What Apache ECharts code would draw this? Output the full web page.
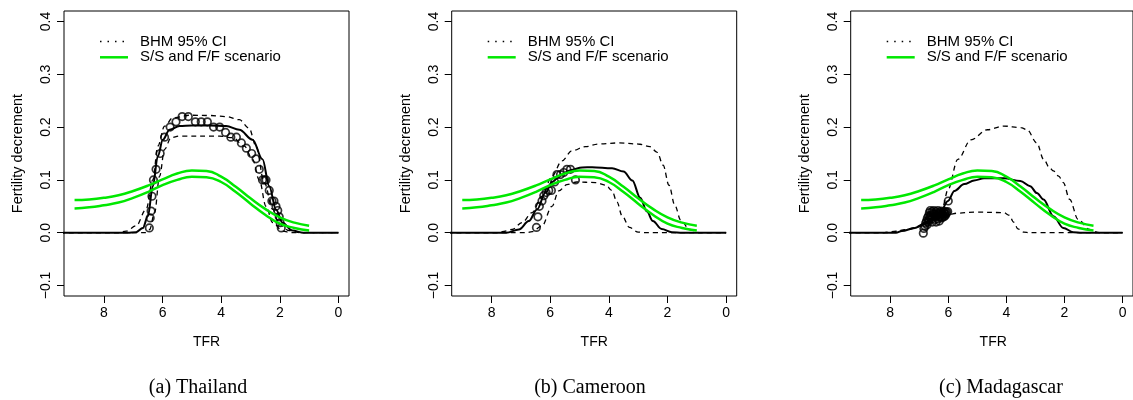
<!DOCTYPE html>
<html>
<head>
<meta charset="utf-8">
<script src="https://cdn.jsdelivr.net/npm/echarts@6/dist/echarts.min.js"></script>
<style>html,body{margin:0;padding:0;background:#fff}#c{width:1133px;height:400px}</style>
</head>
<body>
<div id="c"></div>
<script>
// ---------- data ----------
const xTicks = [0, 2, 4, 6, 8];
const yTicks = [-0.1, 0, 0.1, 0.2, 0.3, 0.4];
const captions = ['(a) Thailand', '(b) Cameroon', '(c) Madagascar'];

const greenTFR   = [9, 8.5, 8, 7.5, 7, 6.5, 6, 5.5, 5, 4.5, 4, 3.5, 3, 2.5, 2, 1.5, 1];
const greenUpper = [0.062, 0.063, 0.066, 0.071, 0.079, 0.089, 0.101, 0.112, 0.118, 0.117, 0.106, 0.087, 0.065, 0.045, 0.029, 0.019, 0.013];
const greenLower = [0.046, 0.048, 0.052, 0.057, 0.066, 0.077, 0.090, 0.100, 0.106, 0.105, 0.096, 0.077, 0.055, 0.034, 0.017, 0.009, 0.004];

// Thailand
const thMedian = [[9.5,0],[7.2,0],[6.9,0.001],[6.67,0.009],[6.5,0.031],[6.33,0.088],[6.16,0.145],[5.99,0.176],[5.76,0.195],[5.42,0.202],[5.0,0.203],[4.4,0.203],[3.83,0.202],[3.38,0.195],[2.93,0.176],[2.59,0.139],[2.36,0.088],[2.13,0.044],[1.91,0.019],[1.57,0.004],[1.2,0],[0,0]];
const thUpper  = [[9.5,0],[7.5,0],[7.24,0.003],[6.9,0.013],[6.56,0.044],[6.33,0.10],[6.16,0.164],[5.93,0.2017],[5.65,0.2175],[5.08,0.2225],[4.4,0.222],[3.83,0.22],[3.38,0.214],[3.05,0.198],[2.81,0.164],[2.53,0.095],[2.24,0.044],[2.02,0.016],[1.68,0.004],[1.3,0],[0,0]];
const thLower  = [[9.5,0],[6.6,0],[6.44,0.006],[6.27,0.038],[6.1,0.107],[5.93,0.158],[5.71,0.18],[5.42,0.183],[4.06,0.183],[3.61,0.18],[3.21,0.164],[2.93,0.139],[2.7,0.1],[2.47,0.05],[2.24,0.019],[1.91,0.003],[1.6,0],[0,0]];
const thPoints = [[6.45,0.009],[6.42,0.028],[6.39,0.041],[6.36,0.069],[6.31,0.1],[6.22,0.12],[6.08,0.15],[5.93,0.181],[5.74,0.2],[5.54,0.21],[5.33,0.22],[5.12,0.22],[4.88,0.21],[4.68,0.21],[4.47,0.21],[4.26,0.2],[4.05,0.2],[3.85,0.19],[3.67,0.181],[3.48,0.181],[3.31,0.17],[3.14,0.16],[2.96,0.15],[2.81,0.14],[2.7,0.12],[2.59,0.1],[2.52,0.1],[2.47,0.1],[2.36,0.08],[2.27,0.06],[2.2,0.06],[2.13,0.05],[2.07,0.042],[2.02,0.03],[1.99,0.019],[1.95,0.009]];

// Cameroon
const caMedian = [[9.5,0],[7.5,0],[7.07,0.006],[6.73,0.022],[6.45,0.044],[6.16,0.076],[5.94,0.096],[5.65,0.109],[5.31,0.1185],[4.91,0.1236],[4.57,0.124],[3.89,0.122],[3.5,0.116],[3.2,0.099],[2.93,0.066],[2.7,0.04],[2.5,0.022],[2.2,0.007],[1.85,0.001],[1.5,0],[0,0]];
const caUpper  = [[9.5,0],[7.8,0],[7.64,0.002],[7.3,0.006],[6.96,0.019],[6.62,0.038],[6.28,0.069],[5.94,0.107],[5.6,0.136],[5.26,0.155],[4.8,0.163],[4.35,0.168],[3.67,0.17],[3.0,0.168],[2.6,0.163],[2.35,0.152],[2.15,0.128],[1.95,0.09],[1.75,0.052],[1.55,0.024],[1.25,0.006],[0.9,0],[0,0]];
const caLower  = [[9.5,0],[6.8,0],[6.62,0.002],[6.28,0.013],[5.94,0.05],[5.71,0.079],[5.43,0.091],[5.1,0.096],[4.46,0.095],[4.1,0.09],[3.9,0.08],[3.72,0.058],[3.55,0.032],[3.3,0.01],[3.0,0.001],[2.7,0],[0,0]];
const caPoints = [[6.47,0.01],[6.42,0.03],[6.37,0.05],[6.28,0.06],[6.22,0.07],[6.14,0.076],[6.05,0.08],[5.96,0.08],[5.85,0.096],[5.77,0.11],[5.65,0.11],[5.54,0.114],[5.43,0.12],[5.31,0.12],[5.14,0.10]];

// Madagascar
const maMedian = [[9.5,0],[7.8,0],[7.6,0.003],[7.15,0.009],[6.87,0.016],[6.58,0.025],[6.3,0.036],[6.01,0.06],[5.79,0.079],[5.45,0.092],[5.11,0.099],[4.77,0.103],[4.09,0.103],[3.52,0.098],[3.18,0.088],[2.95,0.075],[2.72,0.063],[2.38,0.031],[2.04,0.009],[1.7,0.001],[1.4,0],[0,0]];
const maUpper  = [[9.5,0],[8.2,0],[7.95,0.002],[7.38,0.006],[6.92,0.013],[6.47,0.025],[6.19,0.05],[6.01,0.082],[5.67,0.139],[5.22,0.176],[4.65,0.195],[4.09,0.202],[3.5,0.199],[3.29,0.195],[2.95,0.17],[2.72,0.139],[2.5,0.122],[2.38,0.117],[2.2,0.107],[2.04,0.095],[1.82,0.063],[1.53,0.025],[1.14,0.006],[0.8,0],[0,0]];
const maLower  = [[9.5,0],[8.0,0],[7.72,0.003],[7.15,0.009],[6.81,0.016],[6.36,0.028],[6.02,0.034],[5.67,0.037],[5.1,0.039],[4.09,0.038],[3.9,0.033],[3.75,0.02],[3.6,0.007],[3.4,0.001],[3.2,0],[0,0]];
const maPoints = [[6.86,-0.001],[6.84,0.008],[6.8,0.012],[6.78,0.018],[6.75,0.022],[6.73,0.015],[6.72,0.028],[6.7,0.02],[6.68,0.032],[6.66,0.025],[6.65,0.038],[6.63,0.03],[6.62,0.042],[6.6,0.033],[6.58,0.026],[6.56,0.04],[6.55,0.02],[6.53,0.036],[6.52,0.03],[6.5,0.042],[6.48,0.035],[6.46,0.025],[6.45,0.03],[6.43,0.04],[6.42,0.02],[6.4,0.032],[6.38,0.036],[6.36,0.042],[6.35,0.026],[6.33,0.03],[6.31,0.022],[6.3,0.038],[6.28,0.03],[6.26,0.035],[6.25,0.041],[6.23,0.028],[6.22,0.036],[6.2,0.03],[6.18,0.034],[6.16,0.04],[6.15,0.03],[6.13,0.036],[6.11,0.032],[6.1,0.04],[6.08,0.035],[6.05,0.038],[6.02,0.04],[6.0,0.06]];

const panels = [
  {median: thMedian, upper: thUpper, lower: thLower, points: thPoints},
  {median: caMedian, upper: caUpper, lower: caLower, points: caPoints},
  {median: maMedian, upper: maUpper, lower: maLower, points: maPoints}
];

// ---------- layout ----------
const gridLeft = [64, 451.7, 850.7];
const gridTop = 11, gridW = 285, gridH = 285;
const captionX = [198, 590, 1001];
const SANS = '"Liberation Sans", Arial, sans-serif';
const SERIF = '"Liberation Serif", "DejaVu Serif", serif';

const zip = (xs, ys) => xs.map((x, i) => [x, ys[i]]);
const yFmt = v => (v < 0 ? '\u2212' + Math.abs(v).toFixed(1) : v.toFixed(1));

const grids = [], xAxes = [], yAxes = [], series = [], graphics = [];
panels.forEach((p, i) => {
  grids.push({left: gridLeft[i], top: gridTop, width: gridW, height: gridH,
    show: true, borderColor: '#000', borderWidth: 1, backgroundColor: 'transparent'});
  xAxes.push({type: 'value', gridIndex: i, inverse: true, min: -0.36, max: 9.36, position: 'bottom',
    axisLine: {show: false, onZero: false}, splitLine: {show: false},
    axisTick: {show: true, length: 7, customValues: xTicks, lineStyle: {color: '#000', width: 1}},
    axisLabel: {customValues: xTicks, margin: 10, color: '#000', fontSize: 14, fontFamily: SANS}});
  yAxes.push({type: 'value', gridIndex: i, min: -0.12, max: 0.42, position: 'left',
    axisLine: {show: false, onZero: false}, splitLine: {show: false},
    axisTick: {show: true, length: 7, customValues: yTicks, lineStyle: {color: '#000', width: 1}},
    axisLabel: {customValues: yTicks, rotate: 90, margin: 11, color: '#000', fontSize: 14, fontFamily: SANS, formatter: yFmt}});

  const base = {xAxisIndex: i, yAxisIndex: i, showSymbol: false, symbol: 'none', smooth: 0.35, smoothMonotone: 'x', clip: true, silent: true};
  series.push(Object.assign({}, base, {type: 'line', data: p.upper, lineStyle: {color: '#000', width: 1.3, type: [5, 4]}}));
  series.push(Object.assign({}, base, {type: 'line', data: p.lower, lineStyle: {color: '#000', width: 1.3, type: [5, 4]}}));
  series.push(Object.assign({}, base, {type: 'line', data: p.median, lineStyle: {color: '#000', width: 2}}));
  series.push({type: 'scatter', xAxisIndex: i, yAxisIndex: i, data: p.points, symbol: 'circle', symbolSize: 7.5, silent: true,
    itemStyle: {color: 'rgba(0,0,0,0)', borderColor: '#000', borderWidth: 1.7}, z: 3});
  const gbase = {xAxisIndex: i, yAxisIndex: i, showSymbol: false, symbol: 'none', smooth: 0.5, clip: true, silent: true, z: 4};
  series.push(Object.assign({}, gbase, {type: 'line', data: zip(greenTFR, greenUpper), lineStyle: {color: '#00e800', width: 2.5}}));
  series.push(Object.assign({}, gbase, {type: 'line', data: zip(greenTFR, greenLower), lineStyle: {color: '#00e800', width: 2.5}}));

  const L = gridLeft[i];
  const cx = L + gridW / 2;
  // legend
  graphics.push({type: 'line', shape: {x1: L + 36, y1: 41.5, x2: L + 64, y2: 41.5}, style: {stroke: '#000', lineWidth: 1.5, lineDash: [1.5, 6]}});
  graphics.push({type: 'line', shape: {x1: L + 36, y1: 57.3, x2: L + 64, y2: 57.3}, style: {stroke: '#00e800', lineWidth: 2.5}});
  graphics.push({type: 'text', x: L + 76, y: 41.5, style: {text: 'BHM 95% CI', font: '15px ' + SANS, fill: '#000', textAlign: 'left', textVerticalAlign: 'middle'}});
  graphics.push({type: 'text', x: L + 76, y: 57.3, style: {text: 'S/S and F/F scenario', font: '15px ' + SANS, fill: '#000', textAlign: 'left', textVerticalAlign: 'middle'}});
  // axis titles
  graphics.push({type: 'text', x: cx, y: 342, style: {text: 'TFR', font: '14px ' + SANS, fill: '#000', textAlign: 'center', textVerticalAlign: 'middle'}});
  graphics.push({type: 'text', x: L - 46, y: gridTop + gridH / 2, rotation: Math.PI / 2, style: {text: 'Fertility decrement', font: '14.5px ' + SANS, fill: '#000', textAlign: 'center', textVerticalAlign: 'middle'}});
  // caption
  graphics.push({type: 'text', x: captionX[i], y: 388, style: {text: captions[i], font: '20px ' + SERIF, fill: '#000', textAlign: 'center', textVerticalAlign: 'middle'}});
});

const chart = echarts.init(document.getElementById('c'), null, {renderer: 'canvas'});
chart.setOption({
  animation: false,
  backgroundColor: '#fff',
  grid: grids, xAxis: xAxes, yAxis: yAxes, series: series, graphic: graphics
});
</script>
</body>
</html>
